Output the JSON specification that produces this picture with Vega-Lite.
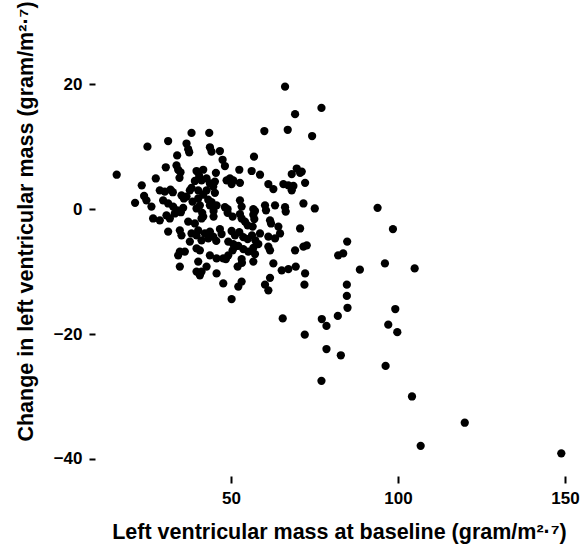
{
  "$schema": "https://vega.github.io/schema/vega-lite/v6.json",
  "autosize": {"type": "none"},
  "padding": {"left": 99, "top": 72, "right": 2, "bottom": 82},
  "width": 480,
  "height": 396,
  "background": "white",
  "config": {
    "view": {"stroke": null},
    "font": "Liberation Sans"
  },
  "data": {
    "values": [
      {"baseline": 15.8, "change": 5.5}, {"baseline": 25.0, "change": 10.0}, {"baseline": 31.2, "change": 10.9}, {"baseline": 38.2, "change": 12.2},
      {"baseline": 43.5, "change": 12.2}, {"baseline": 36.7, "change": 10.5}, {"baseline": 37.2, "change": 9.6}, {"baseline": 37.5, "change": 9.1},
      {"baseline": 43.7, "change": 9.9}, {"baseline": 44.2, "change": 9.2}, {"baseline": 46.7, "change": 9.3}, {"baseline": 47.5, "change": 7.9},
      {"baseline": 48.2, "change": 6.9}, {"baseline": 33.9, "change": 8.6}, {"baseline": 33.7, "change": 7.0}, {"baseline": 34.2, "change": 6.3},
      {"baseline": 34.9, "change": 5.9}, {"baseline": 34.6, "change": 5.0}, {"baseline": 30.5, "change": 6.7}, {"baseline": 27.5, "change": 4.9},
      {"baseline": 23.3, "change": 3.8}, {"baseline": 28.7, "change": 3.0}, {"baseline": 30.2, "change": 2.8}, {"baseline": 31.9, "change": 3.1},
      {"baseline": 24.0, "change": 2.1}, {"baseline": 21.3, "change": 1.0}, {"baseline": 24.7, "change": 1.4}, {"baseline": 26.2, "change": 0.4},
      {"baseline": 29.7, "change": 1.4}, {"baseline": 31.2, "change": 0.9}, {"baseline": 32.7, "change": 0.4}, {"baseline": 35.2, "change": 2.2},
      {"baseline": 36.7, "change": 2.0}, {"baseline": 35.9, "change": 1.7}, {"baseline": 39.7, "change": 6.1}, {"baseline": 41.7, "change": 6.3},
      {"baseline": 40.5, "change": 5.3}, {"baseline": 39.2, "change": 4.5}, {"baseline": 41.2, "change": 4.6}, {"baseline": 42.7, "change": 4.9},
      {"baseline": 43.7, "change": 4.1}, {"baseline": 38.2, "change": 3.4}, {"baseline": 40.2, "change": 3.0}, {"baseline": 37.7, "change": 3.0},
      {"baseline": 42.7, "change": 3.0}, {"baseline": 44.7, "change": 3.6}, {"baseline": 45.5, "change": 5.8}, {"baseline": 45.2, "change": 4.4},
      {"baseline": 48.7, "change": 4.6}, {"baseline": 41.7, "change": 2.3}, {"baseline": 43.2, "change": 1.5}, {"baseline": 44.2, "change": 1.1},
      {"baseline": 40.2, "change": 1.7}, {"baseline": 40.7, "change": 0.6}, {"baseline": 43.7, "change": 0.6}, {"baseline": 45.7, "change": 0.6},
      {"baseline": 38.5, "change": 1.2}, {"baseline": 32.6, "change": 2.7},
      {"baseline": 69.2, "change": 15.2}, {"baseline": 60.0, "change": 12.5}, {"baseline": 67.0, "change": 12.7}, {"baseline": 74.3, "change": 11.7},
      {"baseline": 66.2, "change": 19.6}, {"baseline": 77.1, "change": 16.2}, {"baseline": 56.9, "change": 8.4}, {"baseline": 52.5, "change": 6.3},
      {"baseline": 56.2, "change": 6.1}, {"baseline": 58.7, "change": 5.5}, {"baseline": 49.7, "change": 4.9}, {"baseline": 50.7, "change": 4.6},
      {"baseline": 52.7, "change": 4.2}, {"baseline": 50.2, "change": 4.0}, {"baseline": 61.2, "change": 4.0}, {"baseline": 62.7, "change": 3.2},
      {"baseline": 65.7, "change": 4.0}, {"baseline": 67.2, "change": 3.8}, {"baseline": 68.7, "change": 3.7}, {"baseline": 68.2, "change": 3.0},
      {"baseline": 69.7, "change": 6.5}, {"baseline": 70.7, "change": 5.8}, {"baseline": 68.2, "change": 5.6}, {"baseline": 71.2, "change": 6.0},
      {"baseline": 72.2, "change": 4.2}, {"baseline": 71.7, "change": 0.9}, {"baseline": 52.7, "change": 1.4}, {"baseline": 53.2, "change": 0.4},
      {"baseline": 56.7, "change": 0.0}, {"baseline": 60.2, "change": 0.6}, {"baseline": 63.2, "change": 0.6}, {"baseline": 66.2, "change": 0.3},
      {"baseline": 75.1, "change": 0.1}, {"baseline": 66.4, "change": -0.4}, {"baseline": 60.5, "change": -0.2}, {"baseline": 49.0, "change": 0.0},
      {"baseline": 48.2, "change": 0.3}, {"baseline": 45.2, "change": 2.6},
      {"baseline": 26.7, "change": -1.5}, {"baseline": 28.7, "change": -1.8}, {"baseline": 30.7, "change": -1.0}, {"baseline": 31.7, "change": -1.5},
      {"baseline": 33.2, "change": -0.7}, {"baseline": 33.9, "change": -0.2}, {"baseline": 35.0, "change": -0.5}, {"baseline": 35.7, "change": 0.2},
      {"baseline": 39.7, "change": 0.1}, {"baseline": 31.2, "change": -3.6}, {"baseline": 34.7, "change": -3.4}, {"baseline": 35.2, "change": -4.2},
      {"baseline": 37.2, "change": -2.0}, {"baseline": 39.2, "change": -2.3}, {"baseline": 40.2, "change": -3.4}, {"baseline": 38.2, "change": -3.9},
      {"baseline": 39.7, "change": -4.2}, {"baseline": 41.2, "change": -1.5}, {"baseline": 42.2, "change": -3.9}, {"baseline": 43.7, "change": -3.6},
      {"baseline": 44.7, "change": -4.4}, {"baseline": 43.2, "change": -4.7}, {"baseline": 41.2, "change": -5.0}, {"baseline": 37.7, "change": -5.2},
      {"baseline": 34.7, "change": -6.8}, {"baseline": 34.2, "change": -7.4}, {"baseline": 36.2, "change": -6.8}, {"baseline": 39.7, "change": -6.3},
      {"baseline": 40.7, "change": -6.6}, {"baseline": 43.7, "change": -7.4}, {"baseline": 45.7, "change": -7.9}, {"baseline": 47.7, "change": -7.9},
      {"baseline": 49.2, "change": -7.4}, {"baseline": 40.2, "change": -8.4}, {"baseline": 42.7, "change": -9.2}, {"baseline": 34.7, "change": -9.2},
      {"baseline": 39.7, "change": -10.0}, {"baseline": 40.7, "change": -10.6}, {"baseline": 41.2, "change": -10.0}, {"baseline": 45.7, "change": -10.3},
      {"baseline": 47.7, "change": -11.9}, {"baseline": 41.4, "change": -0.6}, {"baseline": 41.7, "change": -1.2}, {"baseline": 44.8, "change": -0.3},
      {"baseline": 44.8, "change": -1.2}, {"baseline": 46.7, "change": -3.2}, {"baseline": 47.2, "change": -4.0}, {"baseline": 45.6, "change": -5.1},
      {"baseline": 61.7, "change": -1.8}, {"baseline": 64.2, "change": -2.8}, {"baseline": 64.7, "change": -3.9}, {"baseline": 63.2, "change": -4.7},
      {"baseline": 61.2, "change": -4.4}, {"baseline": 58.7, "change": -3.9}, {"baseline": 70.7, "change": -3.1}, {"baseline": 72.7, "change": -5.8},
      {"baseline": 71.7, "change": -6.0}, {"baseline": 69.2, "change": -6.6}, {"baseline": 61.2, "change": -6.0}, {"baseline": 61.7, "change": -6.6},
      {"baseline": 62.7, "change": -8.7}, {"baseline": 65.2, "change": -9.8}, {"baseline": 67.2, "change": -9.6}, {"baseline": 69.4, "change": -9.2},
      {"baseline": 72.2, "change": -10.3}, {"baseline": 72.0, "change": -12.1}, {"baseline": 61.7, "change": -11.0}, {"baseline": 60.2, "change": -12.1},
      {"baseline": 61.2, "change": -13.0}, {"baseline": 53.2, "change": -11.6}, {"baseline": 52.2, "change": -12.4}, {"baseline": 50.2, "change": -14.4},
      {"baseline": 49.0, "change": -0.6}, {"baseline": 50.5, "change": -1.2}, {"baseline": 52.7, "change": -0.8}, {"baseline": 53.2, "change": -1.5},
      {"baseline": 54.2, "change": -2.0}, {"baseline": 56.7, "change": -0.9}, {"baseline": 57.0, "change": -1.6}, {"baseline": 56.5, "change": -2.8},
      {"baseline": 55.0, "change": -2.6}, {"baseline": 50.2, "change": -3.5}, {"baseline": 51.2, "change": -4.2}, {"baseline": 52.5, "change": -3.7},
      {"baseline": 53.7, "change": -4.5}, {"baseline": 55.0, "change": -4.8}, {"baseline": 56.3, "change": -4.2}, {"baseline": 57.3, "change": -5.0},
      {"baseline": 58.2, "change": -5.6}, {"baseline": 49.2, "change": -5.2}, {"baseline": 50.7, "change": -5.6}, {"baseline": 52.2, "change": -5.9},
      {"baseline": 53.7, "change": -6.4}, {"baseline": 55.2, "change": -6.8}, {"baseline": 56.7, "change": -6.2}, {"baseline": 57.2, "change": -7.2},
      {"baseline": 50.5, "change": -6.6}, {"baseline": 51.2, "change": -6.0}, {"baseline": 53.2, "change": -8.0}, {"baseline": 53.3, "change": -8.6},
      {"baseline": 52.0, "change": -9.2}, {"baseline": 48.5, "change": -8.0}, {"baseline": 56.7, "change": -8.4}, {"baseline": 57.2, "change": -0.3},
      {"baseline": 62.0, "change": -2.3},
      {"baseline": 93.9, "change": 0.2}, {"baseline": 98.5, "change": -3.2}, {"baseline": 84.8, "change": -5.2}, {"baseline": 82.1, "change": -7.4},
      {"baseline": 83.6, "change": -7.1}, {"baseline": 88.6, "change": -9.7}, {"baseline": 96.1, "change": -8.7}, {"baseline": 105.0, "change": -9.5},
      {"baseline": 84.7, "change": -12.1}, {"baseline": 84.7, "change": -13.9}, {"baseline": 84.9, "change": -15.8}, {"baseline": 99.2, "change": -16.0},
      {"baseline": 82.0, "change": -17.1}, {"baseline": 77.2, "change": -17.6}, {"baseline": 78.6, "change": -18.7}, {"baseline": 97.1, "change": -18.5},
      {"baseline": 99.8, "change": -19.7}, {"baseline": 65.5, "change": -17.5}, {"baseline": 72.1, "change": -20.1}, {"baseline": 78.6, "change": -22.4},
      {"baseline": 82.9, "change": -23.4}, {"baseline": 96.3, "change": -25.1}, {"baseline": 77.1, "change": -27.5}, {"baseline": 104.2, "change": -30.0},
      {"baseline": 120.0, "change": -34.2}, {"baseline": 106.8, "change": -37.9}, {"baseline": 148.9, "change": -39.1}
    ]
  },
  "mark": {"type": "circle", "size": 68, "color": "#000000", "opacity": 1},
  "encoding": {
    "x": {
      "field": "baseline",
      "type": "quantitative",
      "scale": {"domain": [10.5, 154.2], "nice": false, "zero": false},
      "axis": {
        "title": "Left ventricular mass at baseline (gram/m²·⁷)",
        "values": [50, 100, 150],
        "grid": false,
        "domain": false,
        "offset": 8,
        "tickSize": 7,
        "tickWidth": 2,
        "tickColor": "#000000",
        "labelFont": "Liberation Sans",
        "labelFontSize": 17,
        "labelFontWeight": "bold",
        "labelColor": "#000000",
        "labelPadding": 7,
        "labelFlush": false,
        "titleFont": "Liberation Sans",
        "titleFontSize": 21.5,
        "titleFontWeight": "bold",
        "titleColor": "#000000",
        "titleX": 240,
        "titleY": 62,
        "titleAlign": "center",
        "titleBaseline": "alphabetic"
      }
    },
    "y": {
      "field": "change",
      "type": "quantitative",
      "scale": {"domain": [-41.45, 21.95], "nice": false, "zero": false},
      "axis": {
        "title": "Change in left ventricular mass (gram/m²·⁷)",
        "values": [-40, -20, 0, 20],
        "grid": false,
        "domain": false,
        "offset": 4,
        "tickSize": 6,
        "tickWidth": 2,
        "tickColor": "#000000",
        "labelFont": "Liberation Sans",
        "labelFontSize": 17,
        "labelFontWeight": "bold",
        "labelColor": "#000000",
        "labelPadding": 7,
        "labelFlush": false,
        "titleFont": "Liberation Sans",
        "titleFontSize": 21.5,
        "titleFontWeight": "bold",
        "titleColor": "#000000",
        "titleAngle": -90,
        "titleX": -63,
        "titleY": 149,
        "titleAlign": "center",
        "titleBaseline": "alphabetic"
      }
    }
  }
}
